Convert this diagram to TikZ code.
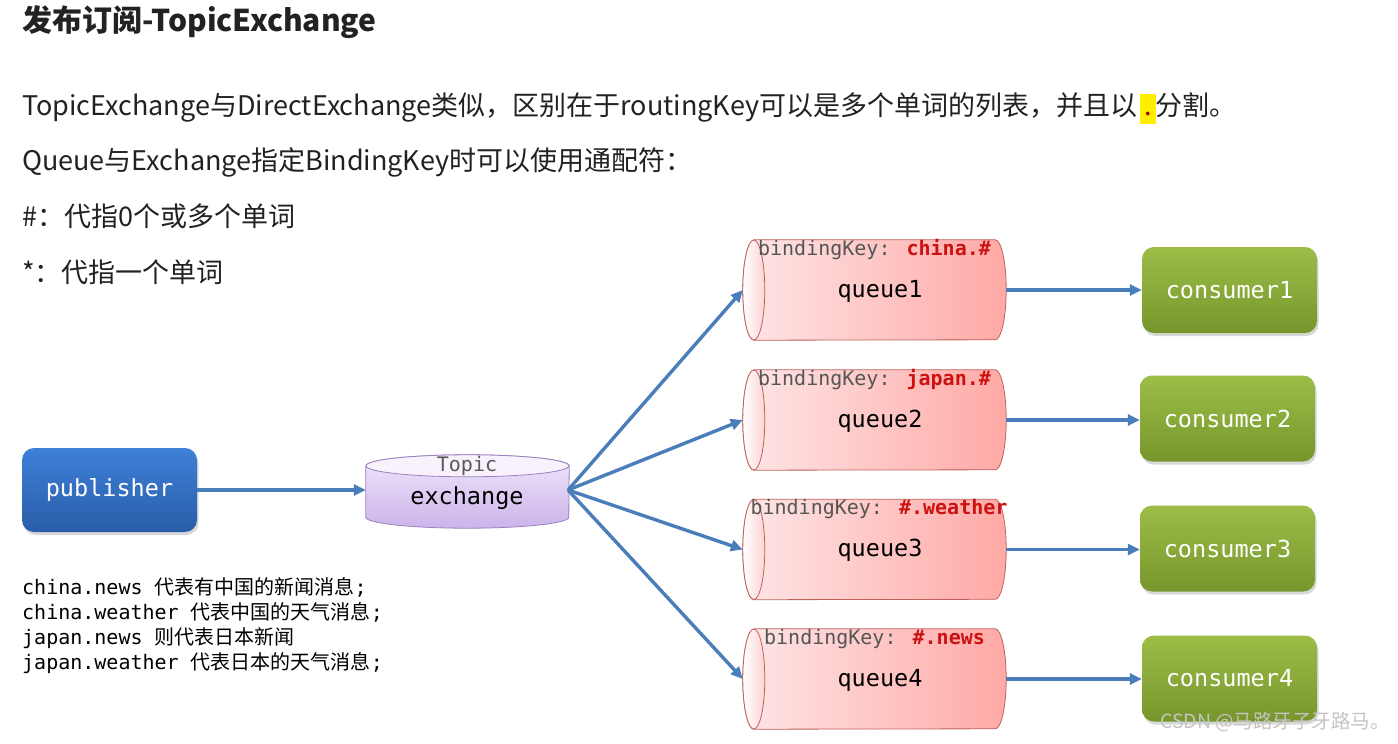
\documentclass[tikz,border=0pt]{standalone}
\usepackage{fontspec}
\setmainfont{Noto Sans CJK SC}
\newfontfamily\cjk{Noto Sans CJK SC}
\newfontfamily\monof{DejaVu Sans Mono}
\usetikzlibrary{shadows,arrows.meta}
\definecolor{txt}{HTML}{222222}
\definecolor{arr}{HTML}{4A7EBB}
\definecolor{pubT}{HTML}{3D80D8}
\definecolor{pubB}{HTML}{2A5DA8}
\definecolor{conT}{HTML}{9DBD48}
\definecolor{conB}{HTML}{76962C}
\definecolor{exT}{HTML}{F0E6FB}
\definecolor{exB}{HTML}{CBB4EA}
\definecolor{exD}{HTML}{9A7FBF}
\definecolor{qL}{HTML}{FDE6E6}
\definecolor{qR}{HTML}{FFA9A6}
\definecolor{qD}{HTML}{C0605A}
\definecolor{keyc}{HTML}{CC1111}
\definecolor{grayt}{HTML}{555555}
\definecolor{hl}{HTML}{FFEE00}
\definecolor{wm}{HTML}{C4C4C4}
\tikzset{
 bodytext/.style={anchor=base west, inner sep=0pt, text=txt, font=\fontsize{27}{30}\selectfont},
 monoline/.style={anchor=base west, inner sep=0pt, text=black, font=\monof\fontsize{20}{25}\selectfont},
 conn/.style={draw=arr, line width=3.4pt, -{Triangle[length=12pt,width=11pt]}},
 pubbox/.style={rounded corners=12pt, minimum width=175pt, minimum height=84pt, top color=pubT, bottom color=pubB, text=white, font=\monof\fontsize{23.5}{26}\selectfont, drop shadow={opacity=0.3, shadow xshift=1.5pt, shadow yshift=-3pt}},
 conbox/.style={rounded corners=12pt, minimum width=175pt, minimum height=86pt, top color=conT, bottom color=conB, text=white, font=\monof\fontsize{23.5}{26}\selectfont, drop shadow={opacity=0.3, shadow xshift=1.5pt, shadow yshift=-3pt}},
 ghost/.style={inner sep=0pt, minimum width=263pt, minimum height=100pt},
 qlabel/.style={font=\monof\fontsize{23.5}{26}\selectfont, text=black, inner sep=0pt},
 keylabel/.style={font=\monof\fontsize{20}{24}\selectfont, text=grayt, inner sep=0pt},
 cylbody/.style={left color=qL, right color=qR, draw=qD, line width=0.8pt},
 cylend/.style={left color=white, right color=qL!70!qR, draw=qD, line width=0.8pt},
}
\newcommand\drawqueue[1]{%
 \path[cylbody] ([xshift=11pt]#1.north west) -- ([xshift=-11pt]#1.north east)
   arc[start angle=-90, end angle=90, x radius=11, y radius=50]
   -- ([xshift=11pt]#1.south west)
   arc[start angle=90, end angle=270, x radius=11, y radius=50] -- cycle;
 \path[cylend] ([xshift=11pt]#1.west) ellipse[x radius=11, y radius=50];
}
\begin{document}
\begin{tikzpicture}[x=1pt,y=-1pt]
\useasboundingbox[fill=white] (0,0) rectangle (1398,744);

% heading and text
\node[bodytext, font=\fontsize{30}{33}\selectfont\bfseries] (title) at (22,31) {发布订阅-TopicExchange};
\node[bodytext] (l1) at (22,115) {TopicExchange与DirectExchange类似，区别在于routingKey可以是多个单词的列表，并且以\hspace{3pt}{\setlength{\fboxsep}{0pt}\colorbox{hl}{\strut\hspace{4pt}\textcolor{red!65!black}{.}\hspace{4pt}}}分割。};
\node[bodytext] (l2) at (22,170) {Queue与Exchange指定BindingKey时可以使用通配符：};
\node[bodytext] (l3) at (22,226) {\#：代指0个或多个单词};
\node[bodytext] (l4) at (22,282) {*：代指一个单词};

% publisher
\node[pubbox] (pub) at (109.5,490) {publisher};

% exchange cylinder
\node[inner sep=0pt, minimum width=203pt, minimum height=73pt] (ex) at (467.5,491.5) {};
\path[top color=exT, bottom color=exB, draw=exD, line width=0.8pt]
  ([yshift=-11pt]ex.north west) -- ([yshift=11pt]ex.south west)
  arc[start angle=180, end angle=0, x radius=101.5, y radius=11]
  -- ([yshift=-11pt]ex.north east)
  arc[start angle=0, end angle=-180, x radius=101.5, y radius=11] -- cycle;
\path[fill=exT!50!white, draw=exD, line width=0.8pt] ([yshift=-11pt]ex.north) ellipse[x radius=101.5, y radius=11];
\node[keylabel, text=black!65] (topic) at (467,466) {Topic};
\node[qlabel] (exlab) at (467,498) {exchange};
\coordinate (exo) at (568,490);

% queues
\node[ghost] (q1) at (874.5,290) {};
\node[ghost] (q2) at (874.5,420) {};
\node[ghost] (q3) at (874.5,549.5) {};
\node[ghost] (q4) at (874.5,679) {};
\drawqueue{q1}\drawqueue{q2}\drawqueue{q3}\drawqueue{q4}
\node[keylabel] (k1) at (874.5,250) {bindingKey: \textcolor{keyc}{\bfseries china.\#}};
\node[keylabel] (k2) at (874.5,380) {bindingKey: \textcolor{keyc}{\bfseries japan.\#}};
\node[keylabel] (k3) at (879,509.5) {bindingKey: \textcolor{keyc}{\bfseries \#.weather}};
\node[keylabel] (k4) at (874.5,639) {bindingKey: \textcolor{keyc}{\bfseries \#.news}};
\node[qlabel] (ql1) at (880,291) {queue1};
\node[qlabel] (ql2) at (880,421) {queue2};
\node[qlabel] (ql3) at (880,550.5) {queue3};
\node[qlabel] (ql4) at (880,680) {queue4};

% consumers
\node[conbox] (c1) at (1229.5,290) {consumer1};
\node[conbox] (c2) at (1227.5,418.5) {consumer2};
\node[conbox] (c3) at (1227.5,548.5) {consumer3};
\node[conbox] (c4) at (1229.5,678.5) {consumer4};

% connectors
\draw[conn] (pub.east) -- (pub.east -| ex.west);
\draw[conn] (exo) -- (q1.west);
\draw[conn] (exo) -- (q2.west);
\draw[conn] (exo) -- (q3.west);
\draw[conn] (exo) -- (q4.west);
\draw[conn] (q1.east) -- (q1.east -| c1.west);
\draw[conn] (q2.east) -- (q2.east -| c2.west);
\draw[conn] (q3.east) -- (q3.east -| c3.west);
\draw[conn] (q4.east) -- (q4.east -| c4.west);

% notes
\node[monoline] (n1) at (22,594) {china.news {\cjk 代表有中国的新闻消息};};
\node[monoline] (n2) at (22,619) {china.weather {\cjk 代表中国的天气消息};};
\node[monoline] (n3) at (22,644) {japan.news {\cjk 则代表日本新闻}};
\node[monoline] (n4) at (22,669) {japan.weather {\cjk 代表日本的天气消息};};

% watermark
\node[inner sep=0pt, text=wm, font=\fontsize{19.5}{22}\selectfont] (wmk) at (1275,722) {CSDN @马路牙子牙路马。};
\end{tikzpicture}
\end{document}
